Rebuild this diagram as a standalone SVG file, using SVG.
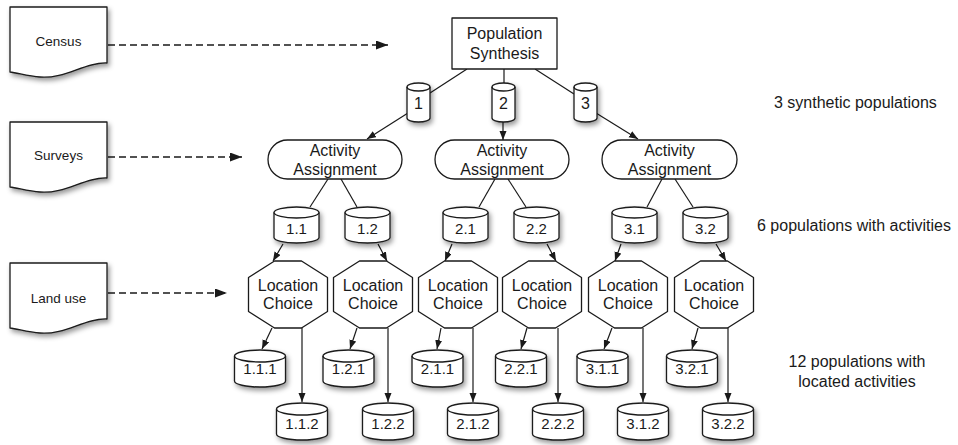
<svg xmlns="http://www.w3.org/2000/svg" xmlns:xlink="http://www.w3.org/1999/xlink" width="958" height="445" viewBox="0 0 958 445">
<defs>
<style>
.shape{fill:#fff;stroke:#1a1a1a;stroke-width:1.3;stroke-linejoin:round}
.rim{fill:none;stroke:#1a1a1a;stroke-width:1.3}
.t{font-family:"Liberation Sans",Arial,sans-serif;font-size:16px;fill:#1a1a1a;text-anchor:middle}
.tc{font-family:"Liberation Sans",Arial,sans-serif;font-size:15px;fill:#1a1a1a;text-anchor:middle}
.td{font-family:"Liberation Sans",Arial,sans-serif;font-size:13.5px;fill:#1a1a1a;text-anchor:middle}
.tr{font-family:"Liberation Sans",Arial,sans-serif;font-size:16px;fill:#1a1a1a}
.ln{fill:none;stroke:#1a1a1a;stroke-width:1.2}
.arr{fill:none;stroke:#1a1a1a;stroke-width:1.2;marker-end:url(#ah)}
.dash{fill:none;stroke:#1a1a1a;stroke-width:1.3;stroke-dasharray:7 4;marker-end:url(#ahd)}
</style>
<filter id="sh" x="-30%" y="-30%" width="170%" height="170%">
<feDropShadow dx="2" dy="3" stdDeviation="2.5" flood-color="#000" flood-opacity="0.4"/>
</filter>
<marker id="ah" markerUnits="userSpaceOnUse" markerWidth="9" markerHeight="8" refX="9" refY="3.5" orient="auto">
<path d="M0,0 L9,3.5 L0,7 Z" fill="#1a1a1a"/>
</marker>
<marker id="ahd" markerUnits="userSpaceOnUse" markerWidth="12" markerHeight="10" refX="12" refY="4.5" orient="auto">
<path d="M0,0 L12,4.5 L0,9 Z" fill="#1a1a1a"/>
</marker>
<path id="doc" d="M0,0 H97 V56 C75,55 55,72 30,70 C18,69 8,66 0,65 Z"/>
<path id="cS" d="M0,4 A11.5,4 0 0 1 23,4 V35 A11.5,4 0 0 1 0,35 Z"/>
<path id="cSr" d="M0,4 A11.5,4 0 0 0 23,4"/>
<path id="cM" d="M0,5.5 A22.5,5.5 0 0 1 45,5.5 V30.5 A22.5,5.5 0 0 1 0,30.5 Z"/>
<path id="cMr" d="M0,5.5 A22.5,5.5 0 0 0 45,5.5"/>
<path id="cL" d="M0,6 A25.5,6 0 0 1 51,6 V31 A25.5,6 0 0 1 0,31 Z"/>
<path id="cLr" d="M0,6 A25.5,6 0 0 0 51,6"/>
<polygon id="oct" points="-13.5,0 13.5,0 39.5,16.5 39.5,50.5 13.5,67 -13.5,67 -39.5,50.5 -39.5,16.5"/>
</defs>

<rect width="958" height="445" fill="#fff"/>

<!-- connectors -->
<g id="connectors">
<path class="dash" d="M108,45 H388"/>
<path class="dash" d="M108,157 H242"/>
<path class="dash" d="M108,293 H227"/>
<path class="ln" d="M467,69 L430,93"/>
<path class="ln" d="M504,69 V83"/>
<path class="ln" d="M535,69 L574,94"/>
<path class="arr" d="M408,113 L367,139"/>
<path class="arr" d="M503,122 V140"/>
<path class="arr" d="M596,113 L638,139"/>
<path class="ln" d="M328,179 L310,207"/>
<path class="ln" d="M341,179 L357,207"/>
<path class="ln" d="M495,179 L479,207"/>
<path class="ln" d="M508,179 L526,207"/>
<path class="ln" d="M662,179 L647,207"/>
<path class="ln" d="M675,179 L693,207"/>
<path class="arr" d="M283,244 L273,261"/>
<path class="arr" d="M378,244 L387,261"/>
<path class="arr" d="M452,244 L445,261"/>
<path class="arr" d="M547,244 L556,261"/>
<path class="arr" d="M621,244 L615,261"/>
<path class="arr" d="M716,244 L726,261"/>
<path class="arr" d="M272,328 L262,349"/>
<path class="arr" d="M357,328 L350,349"/>
<path class="arr" d="M441,328 L437,349"/>
<path class="arr" d="M527,328 L521,349"/>
<path class="arr" d="M612,328 L604,349"/>
<path class="arr" d="M698,328 L692,349"/>
<path class="arr" d="M302,328 V402"/>
<path class="arr" d="M388,328 V402"/>
<path class="arr" d="M473,328 V402"/>
<path class="arr" d="M558,328 V402"/>
<path class="arr" d="M643,328 V402"/>
<path class="arr" d="M728,328 V402"/>
</g>

<!-- documents -->
<g id="census" transform="translate(10,7)"><use xlink:href="#doc" class="shape" filter="url(#sh)"/><text class="td" x="48.5" y="39">Census</text></g>
<g id="surveys" transform="translate(10,122)"><use xlink:href="#doc" class="shape" filter="url(#sh)"/><text class="td" x="48.5" y="38">Surveys</text></g>
<g id="landuse" transform="translate(10,263)"><use xlink:href="#doc" class="shape" filter="url(#sh)"/><text class="td" x="48.5" y="40">Land use</text></g>

<!-- population synthesis -->
<g id="popsynth"><rect class="shape" x="452" y="18" width="105" height="51"/><text class="t" x="504.5" y="39">Population</text><text class="t" x="504.5" y="59">Synthesis</text></g>

<!-- level 1 cylinders -->
<g id="p1" transform="translate(407,83)"><use xlink:href="#cS" class="shape" filter="url(#sh)"/><use xlink:href="#cSr" class="rim"/><text class="t" x="11.5" y="26">1</text></g>
<g id="p2" transform="translate(492,83)"><use xlink:href="#cS" class="shape" filter="url(#sh)"/><use xlink:href="#cSr" class="rim"/><text class="t" x="11.5" y="26">2</text></g>
<g id="p3" transform="translate(574,83)"><use xlink:href="#cS" class="shape" filter="url(#sh)"/><use xlink:href="#cSr" class="rim"/><text class="t" x="11.5" y="26">3</text></g>

<!-- activity assignment -->
<g id="aa1"><rect class="shape" x="268" y="140" width="134" height="39" rx="19.5"/><text class="t" x="335" y="156">Activity</text><text class="t" x="335" y="175">Assignment</text></g>
<g id="aa2"><rect class="shape" x="435" y="140" width="134" height="39" rx="19.5"/><text class="t" x="502" y="156">Activity</text><text class="t" x="502" y="175">Assignment</text></g>
<g id="aa3"><rect class="shape" x="602" y="140" width="135" height="39" rx="19.5"/><text class="t" x="669.5" y="156">Activity</text><text class="t" x="669.5" y="175">Assignment</text></g>

<!-- level 2 cylinders -->
<g id="p1_1" transform="translate(274,207)"><use xlink:href="#cM" class="shape" filter="url(#sh)"/><use xlink:href="#cMr" class="rim"/><text class="tc" x="22.5" y="26.5">1.1</text></g>
<g id="p1_2" transform="translate(345,207)"><use xlink:href="#cM" class="shape" filter="url(#sh)"/><use xlink:href="#cMr" class="rim"/><text class="tc" x="22.5" y="26.5">1.2</text></g>
<g id="p2_1" transform="translate(443,207)"><use xlink:href="#cM" class="shape" filter="url(#sh)"/><use xlink:href="#cMr" class="rim"/><text class="tc" x="22.5" y="26.5">2.1</text></g>
<g id="p2_2" transform="translate(514,207)"><use xlink:href="#cM" class="shape" filter="url(#sh)"/><use xlink:href="#cMr" class="rim"/><text class="tc" x="22.5" y="26.5">2.2</text></g>
<g id="p3_1" transform="translate(612,207)"><use xlink:href="#cM" class="shape" filter="url(#sh)"/><use xlink:href="#cMr" class="rim"/><text class="tc" x="22.5" y="26.5">3.1</text></g>
<g id="p3_2" transform="translate(683,207)"><use xlink:href="#cM" class="shape" filter="url(#sh)"/><use xlink:href="#cMr" class="rim"/><text class="tc" x="22.5" y="26.5">3.2</text></g>

<!-- location choice -->
<g id="lc1" transform="translate(288,261)"><use xlink:href="#oct" class="shape"/><text class="t" x="0" y="30">Location</text><text class="t" x="0" y="48">Choice</text></g>
<g id="lc2" transform="translate(373,261)"><use xlink:href="#oct" class="shape"/><text class="t" x="0" y="30">Location</text><text class="t" x="0" y="48">Choice</text></g>
<g id="lc3" transform="translate(458,261)"><use xlink:href="#oct" class="shape"/><text class="t" x="0" y="30">Location</text><text class="t" x="0" y="48">Choice</text></g>
<g id="lc4" transform="translate(542,261)"><use xlink:href="#oct" class="shape"/><text class="t" x="0" y="30">Location</text><text class="t" x="0" y="48">Choice</text></g>
<g id="lc5" transform="translate(628,261)"><use xlink:href="#oct" class="shape"/><text class="t" x="0" y="30">Location</text><text class="t" x="0" y="48">Choice</text></g>
<g id="lc6" transform="translate(714,261)"><use xlink:href="#oct" class="shape"/><text class="t" x="0" y="30">Location</text><text class="t" x="0" y="48">Choice</text></g>

<!-- level 4 cylinders row 1 -->
<g id="p1_1_1" transform="translate(234.5,350)"><use xlink:href="#cL" class="shape" filter="url(#sh)"/><use xlink:href="#cLr" class="rim"/><text class="tc" x="25.5" y="24">1.1.1</text></g>
<g id="p1_2_1" transform="translate(323,350)"><use xlink:href="#cL" class="shape" filter="url(#sh)"/><use xlink:href="#cLr" class="rim"/><text class="tc" x="25.5" y="24">1.2.1</text></g>
<g id="p2_1_1" transform="translate(412,350)"><use xlink:href="#cL" class="shape" filter="url(#sh)"/><use xlink:href="#cLr" class="rim"/><text class="tc" x="25.5" y="24">2.1.1</text></g>
<g id="p2_2_1" transform="translate(495.5,350)"><use xlink:href="#cL" class="shape" filter="url(#sh)"/><use xlink:href="#cLr" class="rim"/><text class="tc" x="25.5" y="24">2.2.1</text></g>
<g id="p3_1_1" transform="translate(577,350)"><use xlink:href="#cL" class="shape" filter="url(#sh)"/><use xlink:href="#cLr" class="rim"/><text class="tc" x="25.5" y="24">3.1.1</text></g>
<g id="p3_2_1" transform="translate(666.5,350)"><use xlink:href="#cL" class="shape" filter="url(#sh)"/><use xlink:href="#cLr" class="rim"/><text class="tc" x="25.5" y="24">3.2.1</text></g>

<!-- level 4 cylinders row 2 -->
<g id="p1_1_2" transform="translate(276.5,403)"><use xlink:href="#cL" class="shape" filter="url(#sh)"/><use xlink:href="#cLr" class="rim"/><text class="tc" x="25.5" y="25.5">1.1.2</text></g>
<g id="p1_2_2" transform="translate(362.5,403)"><use xlink:href="#cL" class="shape" filter="url(#sh)"/><use xlink:href="#cLr" class="rim"/><text class="tc" x="25.5" y="25.5">1.2.2</text></g>
<g id="p2_1_2" transform="translate(447.5,403)"><use xlink:href="#cL" class="shape" filter="url(#sh)"/><use xlink:href="#cLr" class="rim"/><text class="tc" x="25.5" y="25.5">2.1.2</text></g>
<g id="p2_2_2" transform="translate(532.5,403)"><use xlink:href="#cL" class="shape" filter="url(#sh)"/><use xlink:href="#cLr" class="rim"/><text class="tc" x="25.5" y="25.5">2.2.2</text></g>
<g id="p3_1_2" transform="translate(617.5,403)"><use xlink:href="#cL" class="shape" filter="url(#sh)"/><use xlink:href="#cLr" class="rim"/><text class="tc" x="25.5" y="25.5">3.1.2</text></g>
<g id="p3_2_2" transform="translate(702.5,403)"><use xlink:href="#cL" class="shape" filter="url(#sh)"/><use xlink:href="#cLr" class="rim"/><text class="tc" x="25.5" y="25.5">3.2.2</text></g>

<!-- side labels -->
<g id="labels">
<text class="tr" x="774" y="108">3 synthetic populations</text>
<text class="tr" x="757" y="231">6 populations with activities</text>
<text class="t" x="857" y="367">12 populations with</text>
<text class="t" x="857" y="387">located activities</text>
</g>
</svg>
